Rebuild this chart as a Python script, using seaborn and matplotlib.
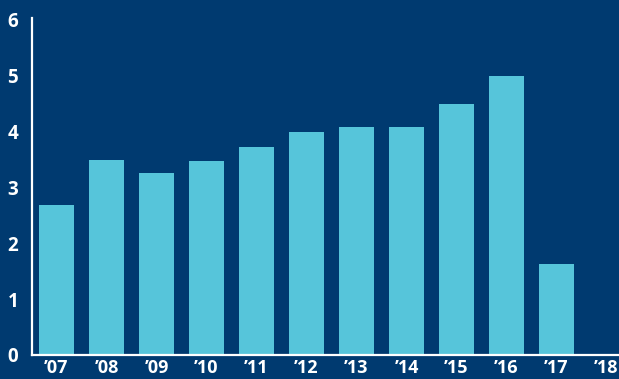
import matplotlib
matplotlib.use('Agg')
import numpy as np
import pandas as pd
import matplotlib.pyplot as plt
import seaborn as sns

# data
years = ["\u201907", "\u201908", "\u201909", "\u201910", "\u201911", "\u201912",
         "\u201913", "\u201914", "\u201915", "\u201916", "\u201917", "\u201918"]
values = [2.68, 3.48, 3.25, 3.46, 3.71, 3.98, 4.07, 4.07, 4.48, 4.98, 1.63, np.nan]
y_ticks = [0, 1, 2, 3, 4, 5, 6]

bg = "#003a70"
bar_color = "#56c5da"

df = pd.DataFrame({"year": years, "value": values})

sns.set_theme(style="white")
plt.rcParams['font.family'] = ['Open Sans', 'DejaVu Sans']

fig = plt.figure(figsize=(6.19, 3.79), dpi=100, facecolor=bg)
ax = fig.add_axes([32 / 619, (379 - 355) / 379, 1 - 32 / 619, (355 - 18) / 379])
ax.set_facecolor(bg)

sns.barplot(data=df, x="year", y="value", order=years, color=bar_color,
            saturation=1, width=0.7, linewidth=0, ax=ax)

ax.set_xlim(-0.49, 11.25)
ax.set_ylim(0, 6.02)
ax.set_yticks(y_ticks)
ax.set_xlabel("")
ax.set_ylabel("")

for side in ["top", "right"]:
    ax.spines[side].set_visible(False)
for side in ["left", "bottom"]:
    ax.spines[side].set_color("white")
    ax.spines[side].set_linewidth(1.6)

ax.tick_params(axis="y", length=0, pad=10, labelcolor="white", labelsize=13.5)
ax.tick_params(axis="x", length=0, pad=3, labelcolor="white", labelsize=13)
for lbl in ax.get_xticklabels() + ax.get_yticklabels():
    lbl.set_fontweight("bold")

fig.savefig("out.png", dpi=100, facecolor=bg)
plt.close(fig)
